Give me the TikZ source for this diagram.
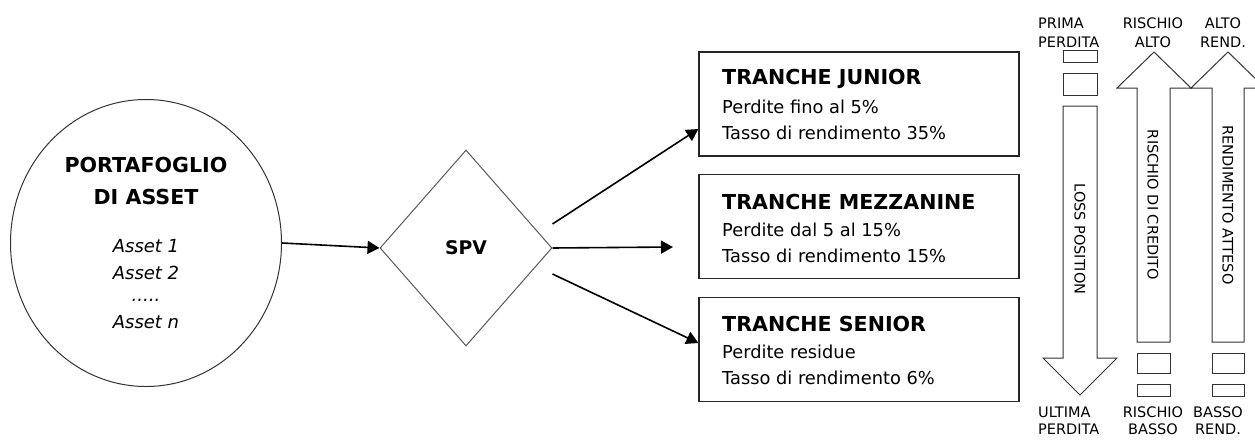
\documentclass[tikz,border=0pt]{standalone}
\usepackage{fontspec}
\setmainfont{DejaVu Sans}
\usetikzlibrary{shapes.geometric,arrows.meta,calc}

\tikzset{
  outline/.style={draw=black!80, line width=1pt},
  flow/.style={draw=black, line width=1.6pt, -{Triangle[length=12pt,width=13pt]}},
  tranche/.style={draw=black!85, line width=1.3pt, minimum width=320pt, minimum height=104pt, inner sep=0pt},
  head/.style={anchor=west, inner sep=0pt, font=\fontsize{20.6}{24}\selectfont\bfseries},
  body/.style={anchor=west, inner sep=0pt, font=\fontsize{17.8}{21}\selectfont},
  tag/.style={inner sep=0pt, font=\fontsize{14.5}{17}\selectfont},
  vtag/.style={inner sep=0pt, rotate=-90, font=\fontsize{14.5}{17}\selectfont},
  slot/.style={draw=black!80, line width=1pt}
}

\begin{document}
\begin{tikzpicture}[x=1pt,y=-1pt]
\useasboundingbox (0,0) rectangle (1255,439);
\clip (0,0) rectangle (1255,439);

% asset pool
\node[ellipse, outline, minimum width=271pt, minimum height=287pt, inner sep=0pt] (pool) at (146,243) {};
\node[align=center, inner sep=0pt, font=\fontsize{20.6}{32}\selectfont\bfseries] (pooltitle) at (146,181) {PORTAFOGLIO\\DI ASSET};
\node[align=center, inner sep=0pt, font=\fontsize{18}{26.5}\selectfont\itshape] (poolassets) at (146,284) {Asset 1\\Asset 2\\[-4pt].....\\Asset n};

% special purpose vehicle
\node[diamond, draw=black!65, line width=1pt, minimum width=172pt, minimum height=196pt, inner sep=0pt,
      font=\fontsize{18.8}{22}\selectfont\bfseries] (spv) at (466,248) {SPV};

% tranches
\node[tranche] (junior) at (859,104) {};
\node[tranche] (mezz) at (859,226.5) {};
\node[tranche] (senior) at (859,349.5) {};

\node[head] (j1) at (722,79) {TRANCHE JUNIOR};
\node[body] (j2) at (722,107) {Perdite fino al 5\%};
\node[body] (j3) at (722,133) {Tasso di rendimento 35\%};

\node[head] (m1) at (722,202) {TRANCHE MEZZANINE};
\node[body] (m2) at (722,230) {Perdite dal 5 al 15\%};
\node[body] (m3) at (722,256) {Tasso di rendimento 15\%};

\node[head] (s1) at (722,324) {TRANCHE SENIOR};
\node[body] (s2) at (722,352) {Perdite residue};
\node[body] (s3) at (722,378) {Tasso di rendimento 6\%};

% flows
\draw[flow] (pool.east) -- (spv.west);
\draw[flow] ($(spv.east)+(0,-24)$) -- (junior.west |- 0,129);
\coordinate (mezzend) at (673,247);
\draw[flow] (spv.east) -- (mezzend);
\draw[flow] ($(spv.east)+(0,26)$) -- (senior.west |- 0,343);

% loss position scale
\draw[outline] (1063,106) -- (1097,106) -- (1097,358) -- (1117,358) -- (1080,395) -- (1043,358) -- (1063,358) -- cycle;
\draw[slot] (1063,50) rectangle (1097,62);
\draw[slot] (1063,73) rectangle (1097,95);
\node[vtag] (loss) at (1080,239) {LOSS POSITION};

% credit risk scale
\draw[outline] (1137,342) -- (1137,88) -- (1117,88) -- (1154,52) -- (1191,88) -- (1170,88) -- (1170,342) -- cycle;
\draw[slot] (1137,353) rectangle (1170,373);
\draw[slot] (1137,384) rectangle (1170,396);
\node[vtag] (risk) at (1153,205) {RISCHIO DI CREDITO};

% expected return scale
\draw[outline] (1212,342) -- (1212,88) -- (1191,88) -- (1228,52) -- (1265,88) -- (1244,88) -- (1244,342) -- cycle;
\draw[slot] (1212,353) rectangle (1244,373);
\draw[slot] (1212,384) rectangle (1244,396);
\node[vtag] (ret) at (1228,205) {RENDIMENTO ATTESO};

% scale end labels
\node[tag, anchor=west] (t1) at (1038,23) {PRIMA};
\node[tag, anchor=west] (t2) at (1038,42) {PERDITA};
\node[tag] (t3) at (1153,23) {RISCHIO};
\node[tag] (t4) at (1153,42) {ALTO};
\node[tag] (t5) at (1223,23) {ALTO};
\node[tag] (t6) at (1223,42) {REND.};

\node[tag, anchor=west] (b1) at (1038,412) {ULTIMA};
\node[tag, anchor=west] (b2) at (1038,429) {PERDITA};
\node[tag] (b3) at (1153,412) {RISCHIO};
\node[tag] (b4) at (1153,429) {BASSO};
\node[tag] (b5) at (1218,412) {BASSO};
\node[tag] (b6) at (1218,429) {REND.};
\end{tikzpicture}
\end{document}
